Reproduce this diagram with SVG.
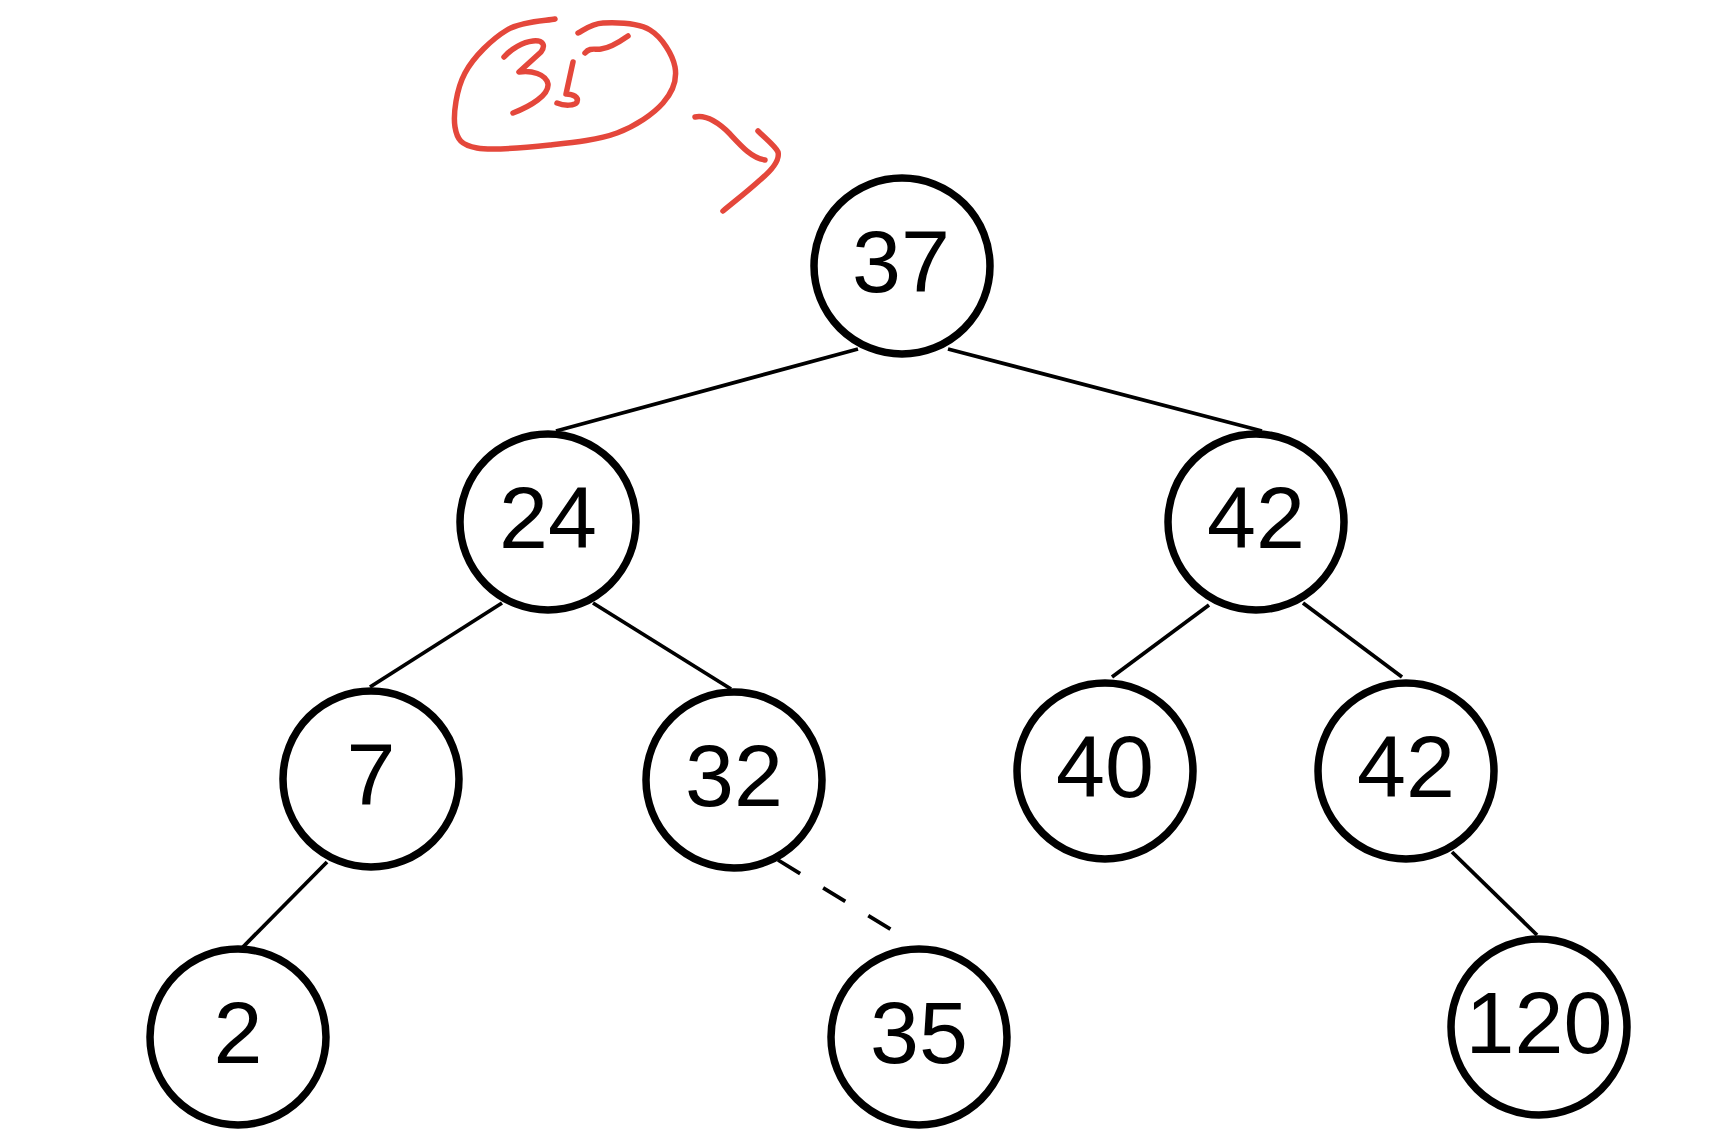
<svg xmlns="http://www.w3.org/2000/svg" width="1734" height="1140" viewBox="0 0 1734 1140">
<style>
.edge{stroke:#000;stroke-width:3.8;fill:none}
.dash{stroke-dasharray:26 27}
.node circle{fill:#fff;stroke:#000;stroke-width:7.5}
.node text{font-family:"Liberation Sans",Arial,sans-serif;font-size:88px;text-anchor:middle;fill:#000}
.ink{fill:none;stroke:#e4473b;stroke-width:5.5;stroke-linecap:round;stroke-linejoin:round}
</style>
<rect width="1734" height="1140" fill="#fff"/>
<g id="annotation">
<path class="ink" d="M555,19 C547,20.8 522,21 507,30 C492,39 473.7,56.8 465,73 C456.3,89.2 453,114.5 455,127 C457,139.5 461.2,145 477,148 C492.8,151 526.7,147.5 550,145 C573.3,142.5 598.2,140 617,133 C635.8,126 653.3,114 663,103 C672.7,92 677.2,79.2 675,67 C672.8,54.8 662,37.3 650,30 C638,22.7 615,22.5 603,23 C591,23.5 582.2,31.3 578,33"/>
<path class="ink" d="M504,57 C511,49 523,42 533,41 C543,40 546,45 541,52 L519,72 C531,70 546,74 548,84 C549,95 531,106 513,113"/>
<path class="ink" d="M573,62 L566,94 C573,94 579,97 577,102 C575,106 564,106 557,103"/>
<path class="ink" d="M585,53 C590,47 595,50 601,49 C610,48 618,43 628,36"/>
<path class="ink" d="M695,117 C705,115 718,122 730,134 C742,147 752,158 765,160"/>
<path class="ink" d="M758,131 C766,139 775,146 778,152 C780,160 772,170 760,180 C748,191 735,201 723,211"/>
</g>
<g id="connectors">
<line class="edge" x1="858" y1="349" x2="556" y2="431"/>
<line class="edge" x1="948" y1="349" x2="1262" y2="431"/>
<line class="edge" x1="502" y1="603" x2="370" y2="687"/>
<line class="edge" x1="593" y1="603" x2="731" y2="689"/>
<line class="edge" x1="327" y1="862" x2="241" y2="949"/>
<line class="edge dash" x1="778" y1="860" x2="895" y2="932"/>
<line class="edge" x1="1209" y1="605" x2="1112" y2="677"/>
<line class="edge" x1="1303" y1="603" x2="1402" y2="677"/>
<line class="edge" x1="1452" y1="852" x2="1537" y2="935"/>
</g>
<g id="n37" class="node"><circle cx="902" cy="266" r="88"/><text x="901" y="292">37</text></g>
<g id="n24" class="node"><circle cx="548" cy="522" r="88"/><text x="548" y="548">24</text></g>
<g id="n42" class="node"><circle cx="1256" cy="522" r="88"/><text x="1256" y="548">42</text></g>
<g id="n7" class="node"><circle cx="371" cy="779" r="88"/><text x="371" y="805">7</text></g>
<g id="n32" class="node"><circle cx="734" cy="780" r="88"/><text x="734" y="806">32</text></g>
<g id="n40" class="node"><circle cx="1105" cy="771" r="88"/><text x="1105" y="797">40</text></g>
<g id="n42b" class="node"><circle cx="1406" cy="771" r="88"/><text x="1406" y="797">42</text></g>
<g id="n2" class="node"><circle cx="238" cy="1037" r="88"/><text x="238" y="1063">2</text></g>
<g id="n35" class="node"><circle cx="919" cy="1037" r="88"/><text x="919" y="1063">35</text></g>
<g id="n120" class="node"><circle cx="1539" cy="1027" r="88"/><text x="1539" y="1053">120</text></g>
</svg>
